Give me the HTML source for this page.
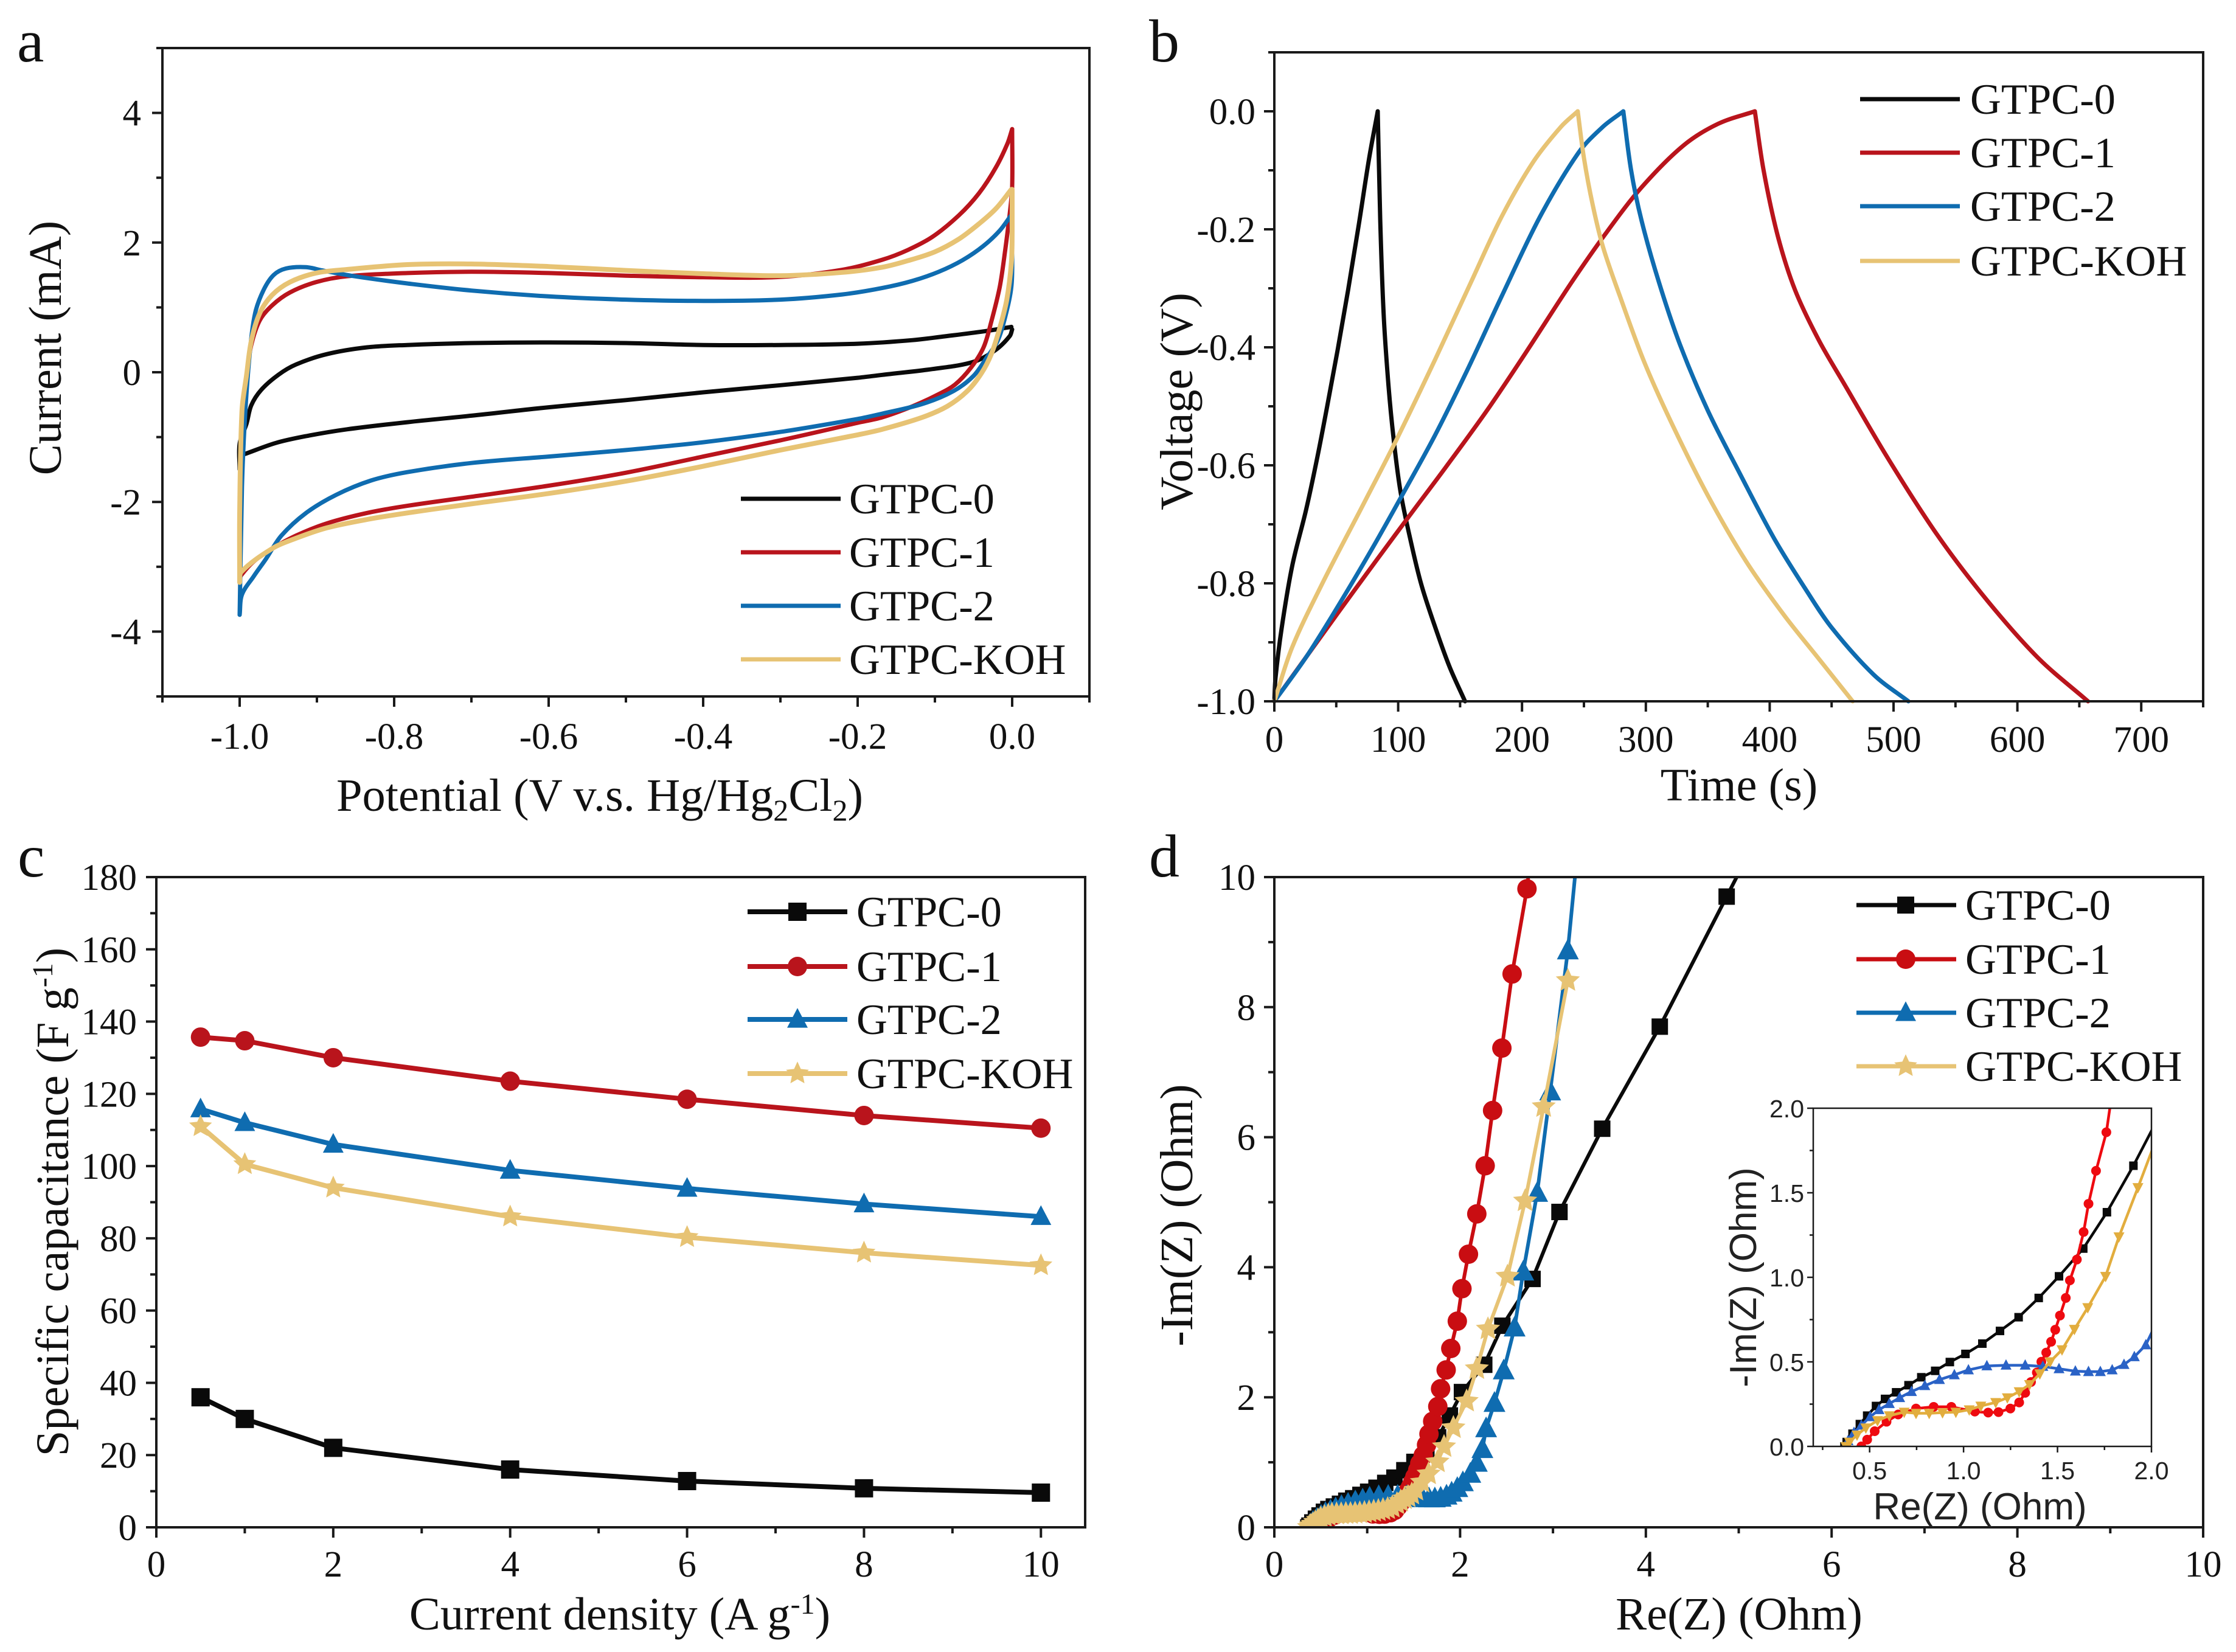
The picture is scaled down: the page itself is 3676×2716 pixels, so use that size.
<!DOCTYPE html>
<html lang="en">
<head>
<meta charset="utf-8">
<title>GTPC electrochemical performance</title>
<style>
html,body{margin:0;padding:0;background:#fff;}
svg{display:block;}
text{font-family:"Liberation Serif",serif;fill:#111;}
.tick{font-size:61px;}
.title{font-size:76.5px;}
.leg{font-size:70.5px;}
.letter{font-size:100px;}
.sans{font-family:"Liberation Sans",sans-serif;fill:#222;}
</style>
</head>
<body>
<svg id="fig" xmlns="http://www.w3.org/2000/svg" width="3676" height="2716" viewBox="0 0 3676 2716">
<defs>
<clipPath id="clip-d"><rect x="2095" y="1442" width="1527" height="1069"/></clipPath>
<clipPath id="clip-i"><rect x="2981" y="1822" width="556" height="556"/></clipPath>
</defs>
<rect width="3676" height="2716" fill="#fff"/>

<g id="panel-a"></g>
<g id="panel-b"></g>
<g id="panel-c"></g>
<g id="panel-d"></g>
<g id="panel-i"></g>

<text class="letter" x="28" y="101">a</text>
<text class="letter" x="1889" y="101">b</text>
<text class="letter" x="29" y="1441">c</text>
<text class="letter" x="1889" y="1441">d</text>

<text class="title" x="986" y="1333" text-anchor="middle">Potential (V v.s. Hg/Hg<tspan dy="16" font-size="50">2</tspan><tspan dy="-16">Cl</tspan><tspan dy="16" font-size="50">2</tspan><tspan dy="-16">)</tspan></text>
<text class="title" transform="translate(100,572) rotate(-90)" text-anchor="middle">Current (mA)</text>
<text class="title" x="2859" y="1316" text-anchor="middle">Time (s)</text>
<text class="title" transform="translate(1960,660) rotate(-90)" text-anchor="middle">Voltage (V)</text>
<text class="title" x="1019" y="2679" text-anchor="middle">Current density (A g<tspan dy="-26" font-size="48">-1</tspan><tspan dy="26">)</tspan></text>
<text class="title" transform="translate(112,1976) rotate(-90)" text-anchor="middle">Specific capacitance (F g<tspan dy="-26" font-size="48">-1</tspan><tspan dy="26">)</tspan></text>
<text class="title" x="2859" y="2679" text-anchor="middle">Re(Z) (Ohm)</text>
<text class="title" transform="translate(1960,1998) rotate(-90)" text-anchor="middle">-Im(Z) (Ohm)</text>
<text class="sans" font-size="62" x="3255" y="2498" text-anchor="middle">Re(Z) (Ohm)</text>
<text class="sans" font-size="62" transform="translate(2887,2100) rotate(-90)" text-anchor="middle">-Im(Z) (Ohm)</text>

<g>
<text class="leg" x="1396" y="844">GTPC-0</text>
<text class="leg" x="1396" y="932">GTPC-1</text>
<text class="leg" x="1396" y="1020">GTPC-2</text>
<text class="leg" x="1396" y="1108">GTPC-KOH</text>
</g>
<g>
<text class="leg" x="3239" y="187">GTPC-0</text>
<text class="leg" x="3239" y="275">GTPC-1</text>
<text class="leg" x="3239" y="363">GTPC-2</text>
<text class="leg" x="3239" y="453">GTPC-KOH</text>
</g>
<g>
<text class="leg" x="1408" y="1523">GTPC-0</text>
<text class="leg" x="1408" y="1613">GTPC-1</text>
<text class="leg" x="1408" y="1700">GTPC-2</text>
<text class="leg" x="1408" y="1789">GTPC-KOH</text>
</g>
<g>
<text class="leg" x="3231" y="1512">GTPC-0</text>
<text class="leg" x="3231" y="1601">GTPC-1</text>
<text class="leg" x="3231" y="1689">GTPC-2</text>
<text class="leg" x="3231" y="1777">GTPC-KOH</text>
</g>
</svg>

<script>
// ---------- series colours ----------
const BLACK = '#0a0a0a', RED = '#b9141c', BLUE = '#0f6cb0', YELLOW = '#e7c374';
const RED_D = '#c90d12';
const I_RED = '#ee0a10', I_BLUE = '#2a62c6', I_YELLOW = '#e2ad3e';

// ---------- panel a: CV loops ----------
const aXTicks = [-1, -0.8, -0.6, -0.4, -0.2, 0];
const aXLabels = ['-1.0', '-0.8', '-0.6', '-0.4', '-0.2', '0.0'];
const aXMinor = [-1.1, -0.9, -0.7, -0.5, -0.3, -0.1, 0.1];
const aYTicks = [-4, -2, 0, 2, 4];
const aYLabels = ['-4', '-2', '0', '2', '4'];
const aYMinor = [-5, -3, -1, 1, 3, 5];

const cv0FwdX = [-1, -1, -0.991, -0.985, -0.972, -0.95, -0.927, -0.887, -0.835, -0.783, -0.7, -0.6, -0.5, -0.4, -0.3, -0.2, -0.129, -0.09, -0.037, -0.001];
const cv0FwdY = [-1.5, -1.1, -0.79, -0.51, -0.27, -0.04, 0.12, 0.28, 0.385, 0.42, 0.45, 0.46, 0.45, 0.42, 0.42, 0.44, 0.495, 0.55, 0.63, 0.70];
const cv0RevX = [0, -0.003, -0.021, -0.05, -0.103, -0.168, -0.2, -0.3, -0.4, -0.5, -0.6, -0.7, -0.783, -0.861, -0.914, -0.953, -0.993];
const cv0RevY = [0.66, 0.56, 0.347, 0.16, 0.05, -0.04, -0.085, -0.2, -0.31, -0.43, -0.54, -0.67, -0.77, -0.88, -0.985, -1.09, -1.26];

const cv1FwdX = [-1, -0.999, -0.997, -0.991, -0.985, -0.974, -0.958, -0.935, -0.901, -0.861, -0.783, -0.7, -0.6, -0.5, -0.4, -0.3, -0.22, -0.168, -0.135, -0.103, -0.069, -0.043, -0.021, -0.006, 0];
const cv1FwdY = [-3.2, -1.5, -0.59, -0.04, 0.42, 0.80, 1.03, 1.23, 1.39, 1.48, 1.53, 1.55, 1.53, 1.49, 1.465, 1.47, 1.58, 1.735, 1.886, 2.09, 2.42, 2.76, 3.16, 3.53, 3.75];
const cv1RevX = [0, 0, -0.003, -0.009, -0.016, -0.027, -0.037, -0.053, -0.074, -0.098, -0.129, -0.168, -0.2, -0.3, -0.4, -0.5, -0.6, -0.7, -0.783, -0.835, -0.887, -0.927, -0.958, -0.982, -0.998, -1];
const cv1RevY = [3.75, 2.86, 2.46, 1.886, 1.32, 0.78, 0.385, 0.076, -0.19, -0.356, -0.525, -0.694, -0.78, -1.05, -1.3, -1.55, -1.75, -1.92, -2.06, -2.17, -2.33, -2.52, -2.72, -2.92, -3.13, -3.2];

const cv2FwdX = [-1, -0.997, -0.993, -0.987, -0.98, -0.969, -0.956, -0.94, -0.914, -0.893, -0.851, -0.783, -0.7, -0.6, -0.5, -0.4, -0.3, -0.22, -0.168, -0.129, -0.095, -0.064, -0.037, -0.016, -0.002];
const cv2FwdY = [-3.74, -1.77, -0.67, 0.28, 0.91, 1.27, 1.5, 1.6, 1.62, 1.57, 1.48, 1.37, 1.26, 1.17, 1.12, 1.1, 1.12, 1.2, 1.3, 1.41, 1.55, 1.73, 1.95, 2.186, 2.41];
const cv2RevX = [-0.001, 0, -0.001, -0.009, -0.019, -0.032, -0.05, -0.076, -0.116, -0.168, -0.2, -0.3, -0.4, -0.5, -0.6, -0.7, -0.783, -0.83, -0.875, -0.914, -0.946, -0.966, -0.982, -0.997, -1];
const cv2RevY = [2.39, 1.86, 1.32, 0.854, 0.478, 0.244, -0.056, -0.29, -0.488, -0.638, -0.72, -0.92, -1.08, -1.2, -1.3, -1.4, -1.54, -1.67, -1.89, -2.17, -2.52, -2.88, -3.15, -3.43, -3.74];

const cvKFwdX = [-1, -1, -0.997, -0.991, -0.985, -0.974, -0.958, -0.935, -0.901, -0.861, -0.783, -0.7, -0.6, -0.5, -0.4, -0.3, -0.22, -0.168, -0.135, -0.1, -0.069, -0.043, -0.021, -0.001];
const cvKFwdY = [-3.24, -2.17, -0.59, -0.04, 0.48, 0.91, 1.19, 1.39, 1.53, 1.585, 1.66, 1.67, 1.63, 1.57, 1.52, 1.49, 1.54, 1.62, 1.72, 1.857, 2.054, 2.289, 2.523, 2.82];
const cvKRevX = [0, 0, -0.001, -0.007, -0.016, -0.027, -0.04, -0.058, -0.084, -0.116, -0.168, -0.2, -0.3, -0.4, -0.5, -0.6, -0.7, -0.783, -0.835, -0.887, -0.927, -0.958, -0.998, -1];
const cvKRevY = [2.82, 2.19, 1.69, 1.116, 0.685, 0.28, -0.02, -0.29, -0.525, -0.694, -0.88, -0.965, -1.2, -1.45, -1.68, -1.87, -2.03, -2.17, -2.27, -2.40, -2.56, -2.72, -3.08, -3.24];

// ---------- panel b: charge/discharge ----------
const bXTicks = [0, 100, 200, 300, 400, 500, 600, 700];
const bXLabels = ['0', '100', '200', '300', '400', '500', '600', '700'];
const bXMinor = [50, 150, 250, 350, 450, 550, 650, 750];
const bYTicks = [-1, -0.8, -0.6, -0.4, -0.2, 0];
const bYLabels = ['-1.0', '-0.8', '-0.6', '-0.4', '-0.2', '0.0'];
const bYMinor = [-0.9, -0.7, -0.5, -0.3, -0.1, 0.1];

const gc0UpT = [0, 1, 6, 14.5, 25.7, 34.2, 42.7, 51.1, 59.6, 68, 76.5, 83.5];
const gc0UpV = [-1, -0.96, -0.875, -0.77, -0.675, -0.592, -0.5, -0.405, -0.303, -0.195, -0.08, 0];
const gc0DnT = [83.5, 85.5, 88.3, 92, 96.2, 101.9, 110.3, 118.8, 130, 141.4, 154];
const gc0DnV = [0, -0.184, -0.345, -0.46, -0.553, -0.645, -0.73, -0.803, -0.875, -0.941, -1];

const gc1UpT = [0, 25.7, 51.1, 82.1, 107.5, 138.5, 172.4, 203.4, 240, 268.3, 296.5, 330.3, 358.5, 388];
const gc1UpV = [-1, -0.925, -0.851, -0.762, -0.69, -0.603, -0.505, -0.408, -0.29, -0.205, -0.129, -0.058, -0.021, 0];
const gc1DnT = [388, 395, 406.5, 420.5, 439.7, 461, 496, 536, 576, 617, 657];
const gc1DnV = [0, -0.099, -0.211, -0.303, -0.388, -0.465, -0.59, -0.72, -0.83, -0.927, -1];

const gc2UpT = [0, 25.7, 51.1, 79.3, 104.7, 130, 155.5, 183.7, 214.7, 245.7, 265.4, 281.8];
const gc2UpV = [-1, -0.925, -0.84, -0.74, -0.645, -0.548, -0.44, -0.313, -0.178, -0.07, -0.026, 0];
const gc2DnT = [281.8, 288, 296.5, 310.6, 327.5, 350, 375.4, 403.6, 429, 450, 484, 512];
const gc2DnV = [0, -0.099, -0.185, -0.29, -0.395, -0.507, -0.612, -0.724, -0.81, -0.875, -0.955, -1];

const gcKUpT = [0, 14.5, 39.8, 70.9, 99, 130, 158.3, 183.7, 209, 231.6, 245];
const gcKUpV = [-1, -0.908, -0.796, -0.67, -0.555, -0.42, -0.292, -0.178, -0.086, -0.026, 0];
const gcKDnT = [245, 250, 257, 265.4, 279.5, 299.3, 321.8, 350, 381, 412, 439.7, 467];
const gcKDnV = [0, -0.079, -0.158, -0.23, -0.316, -0.428, -0.533, -0.651, -0.763, -0.855, -0.928, -1];

// ---------- panel c: rate capability ----------
const cXTicks = [0, 2, 4, 6, 8, 10];
const cXLabels = ['0', '2', '4', '6', '8', '10'];
const cXMinor = [1, 3, 5, 7, 9];
const cYTicks = [0, 20, 40, 60, 80, 100, 120, 140, 160, 180];
const cYLabels = ['0', '20', '40', '60', '80', '100', '120', '140', '160', '180'];
const cYMinor = [10, 30, 50, 70, 90, 110, 130, 150, 170];
const densities = [0.5, 1, 2, 4, 6, 8, 10];
const capGtpc0 = [36, 30, 22, 16, 12.8, 10.8, 9.6];
const capGtpc1 = [135.7, 134.7, 130, 123.5, 118.5, 114, 110.5];
const capGtpc2 = [115.8, 112, 106, 98.8, 93.8, 89.5, 86];
const capKoh = [111, 100.5, 94, 86, 80.3, 76, 72.5];

// ---------- panel d: Nyquist ----------
const dXTicks = [0, 2, 4, 6, 8, 10];
const dXLabels = ['0', '2', '4', '6', '8', '10'];
const dXMinor = [1, 3, 5, 7, 9];
const dYTicks = [0, 2, 4, 6, 8, 10];
const dYLabels = ['0', '2', '4', '6', '8', '10'];
const dYMinor = [1, 3, 5, 7, 9];

const ny0X = [0.366, 0.378, 0.409, 0.448, 0.487, 0.534, 0.582, 0.641, 0.707, 0.775, 0.849, 0.927, 1.01, 1.10, 1.194, 1.293, 1.40, 1.508, 1.637, 1.763, 1.89, 2.02, 2.26, 2.455, 2.78, 3.07, 3.53, 4.15, 4.87];
const ny0Y = [0, 0.026, 0.075, 0.132, 0.182, 0.239, 0.281, 0.32, 0.362, 0.409, 0.447, 0.499, 0.547, 0.608, 0.683, 0.764, 0.878, 1.006, 1.17, 1.385, 1.72, 2.08, 2.5, 3.1, 3.82, 4.85, 6.13, 7.7, 9.7];
const ny1X = [0.456, 0.487, 0.527, 0.59, 0.652, 0.747, 0.841, 0.935, 1.06, 1.131, 1.186, 1.249, 1.296, 1.328, 1.359, 1.39, 1.414, 1.44, 1.466, 1.488, 1.513, 1.544, 1.566, 1.603, 1.639, 1.665, 1.705, 1.76, 1.79, 1.85, 1.90, 1.97, 2.02, 2.09, 2.18, 2.27, 2.35, 2.45, 2.56, 2.72];
const ny1Y = [0, 0.04, 0.09, 0.146, 0.189, 0.224, 0.234, 0.234, 0.206, 0.2, 0.203, 0.224, 0.26, 0.317, 0.381, 0.437, 0.501, 0.555, 0.619, 0.69, 0.774, 0.878, 0.982, 1.105, 1.268, 1.435, 1.63, 1.858, 2.13, 2.42, 2.75, 3.17, 3.67, 4.2, 4.82, 5.56, 6.41, 7.37, 8.51, 9.82];
const ny2X = [0.37, 0.385, 0.417, 0.456, 0.503, 0.55, 0.605, 0.66, 0.723, 0.794, 0.872, 0.951, 1.026, 1.124, 1.226, 1.328, 1.422, 1.508, 1.595, 1.665, 1.728, 1.791, 1.854, 1.909, 1.97, 2.03, 2.11, 2.18, 2.24, 2.28, 2.37, 2.47, 2.587, 2.68, 2.83, 2.97, 3.16];
const ny2Y = [0, 0.033, 0.082, 0.125, 0.175, 0.217, 0.253, 0.288, 0.324, 0.359, 0.395, 0.423, 0.452, 0.476, 0.48, 0.48, 0.473, 0.459, 0.445, 0.442, 0.442, 0.452, 0.484, 0.53, 0.6, 0.69, 0.82, 0.99, 1.2, 1.52, 1.91, 2.41, 3.07, 3.93, 5.14, 6.7, 8.87];
const nyKX = [0.374, 0.393, 0.415, 0.44, 0.47, 0.5, 0.54, 0.58, 0.62, 0.67, 0.72, 0.77, 0.82, 0.87, 0.92, 0.97, 1.02, 1.07, 1.12, 1.17, 1.22, 1.27, 1.32, 1.36, 1.40, 1.44, 1.48, 1.524, 1.59, 1.661, 1.756, 1.827, 1.928, 2.07, 2.18, 2.30, 2.51, 2.70, 2.90, 3.16];
const nyKY = [0, 0.026, 0.05, 0.08, 0.11, 0.14, 0.165, 0.185, 0.2, 0.205, 0.205, 0.21, 0.21, 0.215, 0.22, 0.225, 0.235, 0.245, 0.255, 0.27, 0.285, 0.31, 0.36, 0.40, 0.44, 0.47, 0.51, 0.572, 0.693, 0.821, 1.006, 1.24, 1.531, 1.94, 2.44, 3.05, 3.86, 5.02, 6.47, 8.41];

// ---------- inset: Nyquist zoom ----------
const iXTicks = [0.5, 1, 1.5, 2];
const iXLabels = ['0.5', '1.0', '1.5', '2.0'];
const iXMinor = [0.25, 0.75, 1.25, 1.75];
const iYTicks = [0, 0.5, 1, 1.5, 2];
const iYLabels = ['0.0', '0.5', '1.0', '1.5', '2.0'];
const iYMinor = [0.25, 0.75, 1.25, 1.75];

const in0X = [0.366, 0.378, 0.409, 0.448, 0.487, 0.534, 0.582, 0.641, 0.707, 0.775, 0.849, 0.927, 1.01, 1.10, 1.194, 1.293, 1.40, 1.508, 1.637, 1.763, 1.904, 2.03];
const in0Y = [0, 0.026, 0.075, 0.132, 0.182, 0.239, 0.281, 0.32, 0.362, 0.409, 0.447, 0.499, 0.547, 0.608, 0.683, 0.764, 0.878, 1.006, 1.17, 1.385, 1.66, 1.93];
const in1X = [0.456, 0.487, 0.527, 0.59, 0.652, 0.747, 0.841, 0.935, 1.06, 1.131, 1.186, 1.249, 1.296, 1.328, 1.359, 1.39, 1.414, 1.44, 1.466, 1.488, 1.513, 1.544, 1.566, 1.603, 1.639, 1.665, 1.705, 1.76, 1.785];
const in1Y = [0, 0.04, 0.09, 0.146, 0.189, 0.224, 0.234, 0.234, 0.206, 0.2, 0.203, 0.224, 0.26, 0.317, 0.381, 0.437, 0.501, 0.555, 0.619, 0.69, 0.774, 0.878, 0.982, 1.105, 1.268, 1.435, 1.63, 1.858, 2.05];
const in2X = [0.37, 0.385, 0.417, 0.456, 0.503, 0.55, 0.605, 0.66, 0.723, 0.794, 0.872, 0.951, 1.026, 1.124, 1.226, 1.328, 1.422, 1.508, 1.595, 1.665, 1.728, 1.791, 1.854, 1.909, 1.97, 2.03];
const in2Y = [0, 0.033, 0.082, 0.125, 0.175, 0.217, 0.253, 0.288, 0.324, 0.359, 0.395, 0.423, 0.452, 0.476, 0.48, 0.48, 0.473, 0.459, 0.445, 0.442, 0.442, 0.452, 0.484, 0.53, 0.6, 0.74];
const inKX = [0.374, 0.393, 0.433, 0.48, 0.542, 0.605, 0.684, 0.747, 0.817, 0.888, 0.959, 1.03, 1.092, 1.171, 1.233, 1.296, 1.351, 1.406, 1.461, 1.524, 1.59, 1.661, 1.756, 1.827, 1.928, 2.03];
const inKY = [0, 0.026, 0.068, 0.11, 0.153, 0.182, 0.203, 0.196, 0.196, 0.2, 0.203, 0.217, 0.239, 0.26, 0.288, 0.324, 0.366, 0.43, 0.501, 0.572, 0.693, 0.821, 1.006, 1.24, 1.531, 1.83];

// ---------- helpers ----------
const NS = 'http://www.w3.org/2000/svg';
function make(parent, tag, name) {
  const n = document.createElementNS(NS, tag);
  
  
  parent.appendChild(n);
  return n;
}
function linear(d0, d1, r0, r1) {
  return v => r0 + (v - d0) * (r1 - r0) / (d1 - d0);
}
function drawFrame(g, box, opts) {
  const strokeW = opts.stroke;
  const frame = make(g, 'rect', opts.prefix + '-plot-frame');
  frame.setAttribute('x', box.l); frame.setAttribute('y', box.t);
  frame.setAttribute('width', box.r - box.l); frame.setAttribute('height', box.b - box.t);
  frame.setAttribute('fill', 'none'); frame.setAttribute('stroke', '#1a1a1a');
  frame.setAttribute('stroke-width', strokeW);

  function tickLine(x1, y1, x2, y2, name) {
    const t = make(g, 'line', name);
    t.setAttribute('x1', x1); t.setAttribute('y1', y1);
    t.setAttribute('x2', x2); t.setAttribute('y2', y2);
    t.setAttribute('stroke', '#1a1a1a'); t.setAttribute('stroke-width', strokeW);
  }
  function label(x, y, s, anchor, name) {
    const t = make(g, 'text', name);
    t.setAttribute('x', x); t.setAttribute('y', y);
    t.setAttribute('text-anchor', anchor);
    if (opts.sans) { t.setAttribute('class', 'sans'); t.setAttribute('font-size', opts.fs); }
    else t.setAttribute('class', 'tick');
    t.textContent = s;
  }
  opts.xTicks.forEach((v, i) => {
    tickLine(opts.sx(v), box.b, opts.sx(v), box.b + opts.major, opts.prefix + '-x-tick');
    label(opts.sx(v), opts.xBase, opts.xLabels[i], 'middle', opts.prefix + '-x-tick-label');
  });
  opts.xMinor.forEach(v => tickLine(opts.sx(v), box.b, opts.sx(v), box.b + opts.minor, opts.prefix + '-x-minor-tick'));
  opts.yTicks.forEach((v, i) => {
    tickLine(box.l, opts.sy(v), box.l - opts.major, opts.sy(v), opts.prefix + '-y-tick');
    label(opts.yRight, opts.sy(v) + opts.yShift, opts.yLabels[i], 'end', opts.prefix + '-y-tick-label');
  });
  opts.yMinor.forEach(v => tickLine(box.l, opts.sy(v), box.l - opts.minor, opts.sy(v), opts.prefix + '-y-minor-tick'));
}
function pathStraight(pts) {
  return pts.map((p, i) => (i ? 'L' : 'M') + p[0].toFixed(1) + ' ' + p[1].toFixed(1)).join(' ');
}
function unitDir(a, b) {
  const dx = b[0] - a[0], dy = b[1] - a[1], len = Math.hypot(dx, dy) || 1;
  return [dx / len, dy / len];
}
function pathSmooth(pts) {
  let d = 'M' + pts[0][0].toFixed(1) + ' ' + pts[0][1].toFixed(1);
  for (let i = 0; i < pts.length - 1; i++) {
    const p0 = pts[Math.max(i - 1, 0)], p1 = pts[i], p2 = pts[i + 1], p3 = pts[Math.min(i + 2, pts.length - 1)];
    const seg = Math.hypot(p2[0] - p1[0], p2[1] - p1[1]) / 3;
    const d1 = unitDir(p0, p2), d2 = unitDir(p1, p3);
    const c1x = p1[0] + d1[0] * seg, c1y = p1[1] + d1[1] * seg;
    const c2x = p2[0] - d2[0] * seg, c2y = p2[1] - d2[1] * seg;
    d += ' C' + c1x.toFixed(1) + ' ' + c1y.toFixed(1) + ' ' + c2x.toFixed(1) + ' ' + c2y.toFixed(1) + ' ' + p2[0].toFixed(1) + ' ' + p2[1].toFixed(1);
  }
  return d;
}
function drawPath(g, xs, ys, sx, sy, color, width, name, smooth) {
  const pts = xs.map((x, i) => [sx(x), sy(ys[i])]);
  const p = make(g, 'path', name);
  p.setAttribute('d', smooth ? pathSmooth(pts) : pathStraight(pts));
  p.setAttribute('fill', 'none'); p.setAttribute('stroke', color);
  p.setAttribute('stroke-width', width);
  p.setAttribute('stroke-linejoin', 'round'); p.setAttribute('stroke-linecap', 'round');
  return p;
}
function drawMarker(g, kind, cx, cy, size, color, name) {
  if (kind === 'square') {
    const m = make(g, 'rect', name);
    m.setAttribute('x', cx - size / 2); m.setAttribute('y', cy - size / 2);
    m.setAttribute('width', size); m.setAttribute('height', size);
    m.setAttribute('fill', color);
  } else if (kind === 'circle') {
    const m = make(g, 'circle', name);
    m.setAttribute('cx', cx); m.setAttribute('cy', cy); m.setAttribute('r', size / 2);
    m.setAttribute('fill', color);
  } else if (kind === 'up' || kind === 'down') {
    const s = kind === 'up' ? 1 : -1, h = size * 0.5;
    const m = make(g, 'polygon', name);
    m.setAttribute('points', cx + ',' + (cy - s * h * 1.1) + ' ' + (cx + h) + ',' + (cy + s * h * 0.8) + ' ' + (cx - h) + ',' + (cy + s * h * 0.8));
    m.setAttribute('fill', color);
  } else {
    const pts = [];
    for (let k = 0; k < 10; k++) {
      const r = k % 2 ? size * 0.26 : size * 0.55, a = -Math.PI / 2 + k * Math.PI / 5;
      pts.push((cx + r * Math.cos(a)).toFixed(1) + ',' + (cy + r * Math.sin(a)).toFixed(1));
    }
    const m = make(g, 'polygon', name);
    m.setAttribute('points', pts.join(' '));
    m.setAttribute('fill', color);
  }
}
function drawSeries(g, xs, ys, sx, sy, color, width, kind, size, name) {
  const sg = make(g, 'g', name);
  drawPath(sg, xs, ys, sx, sy, color, width, name + '-line', false);
  xs.forEach((x, i) => {
    drawMarker(sg, kind, sx(x), sy(ys[i]), size, color, name + '-point');
  });
  return sg;
}
function legendLine(g, x1, x2, y, color, width, name) {
  const l = make(g, 'line', name);
  l.setAttribute('x1', x1); l.setAttribute('x2', x2);
  l.setAttribute('y1', y); l.setAttribute('y2', y);
  l.setAttribute('stroke', color); l.setAttribute('stroke-width', width);
}

// ---------- panel a ----------
(function () {
  const g = document.getElementById('panel-a');
  const box = { l: 267, r: 1791, t: 79, b: 1145 };
  const sx = linear(-1.1, 0.1, box.l, box.r), sy = linear(-5, 5, box.b, box.t);
  drawPath(g, cv0FwdX, cv0FwdY, sx, sy, BLACK, 7, 'cv-gtpc-0-forward', true);
  drawPath(g, cv0RevX, cv0RevY, sx, sy, BLACK, 7, 'cv-gtpc-0-reverse', true);
  drawPath(g, cv1FwdX, cv1FwdY, sx, sy, RED, 7, 'cv-gtpc-1-forward', true);
  drawPath(g, cv1RevX, cv1RevY, sx, sy, RED, 7, 'cv-gtpc-1-reverse', true);
  drawPath(g, cv2FwdX, cv2FwdY, sx, sy, BLUE, 7, 'cv-gtpc-2-forward', true);
  drawPath(g, cv2RevX, cv2RevY, sx, sy, BLUE, 7, 'cv-gtpc-2-reverse', true);
  drawPath(g, cvKFwdX, cvKFwdY, sx, sy, YELLOW, 8, 'cv-gtpc-koh-forward', true);
  drawPath(g, cvKRevX, cvKRevY, sx, sy, YELLOW, 8, 'cv-gtpc-koh-reverse', true);
  drawFrame(g, box, { prefix: 'a', stroke: 4, major: 17, minor: 10, sx, sy, xTicks: aXTicks, xLabels: aXLabels, xMinor: aXMinor, yTicks: aYTicks, yLabels: aYLabels, yMinor: aYMinor, xBase: 1231, yRight: 232, yShift: 21 });
  [[820, BLACK], [908, RED], [996, BLUE], [1084, YELLOW]].forEach(r => legendLine(g, 1218, 1382, r[0], r[1], 7, 'legend-a-line'));
})();

// ---------- panel b ----------
(function () {
  const g = document.getElementById('panel-b');
  const box = { l: 2095, r: 3622, t: 86, b: 1153 };
  const sx = linear(0, 750, box.l, box.r), sy = linear(-1, 0.1, box.b, box.t);
  drawPath(g, gc0UpT, gc0UpV, sx, sy, BLACK, 7, 'gcd-gtpc-0-charge', true);
  drawPath(g, gc0DnT, gc0DnV, sx, sy, BLACK, 7, 'gcd-gtpc-0-discharge', true);
  drawPath(g, gc1UpT, gc1UpV, sx, sy, RED, 7, 'gcd-gtpc-1-charge', true);
  drawPath(g, gc1DnT, gc1DnV, sx, sy, RED, 7, 'gcd-gtpc-1-discharge', true);
  drawPath(g, gc2UpT, gc2UpV, sx, sy, BLUE, 7, 'gcd-gtpc-2-charge', true);
  drawPath(g, gc2DnT, gc2DnV, sx, sy, BLUE, 7, 'gcd-gtpc-2-discharge', true);
  drawPath(g, gcKUpT, gcKUpV, sx, sy, YELLOW, 7, 'gcd-gtpc-koh-charge', true);
  drawPath(g, gcKDnT, gcKDnV, sx, sy, YELLOW, 7, 'gcd-gtpc-koh-discharge', true);
  drawFrame(g, box, { prefix: 'b', stroke: 4, major: 17, minor: 10, sx, sy, xTicks: bXTicks, xLabels: bXLabels, xMinor: bXMinor, yTicks: bYTicks, yLabels: bYLabels, yMinor: bYMinor, xBase: 1236, yRight: 2064, yShift: 21 });
  [[163, BLACK], [251, RED], [339, BLUE], [429, YELLOW]].forEach(r => legendLine(g, 3058, 3222, r[0], r[1], 7, 'legend-b-line'));
})();

// ---------- panel c ----------
(function () {
  const g = document.getElementById('panel-c');
  const box = { l: 257, r: 1784, t: 1442, b: 2511 };
  const sx = linear(0, 10.5, box.l, box.r), sy = linear(0, 180, box.b, box.t);
  drawSeries(g, densities, capGtpc0, sx, sy, BLACK, 8, 'square', 30, 'rate-gtpc-0');
  drawSeries(g, densities, capGtpc1, sx, sy, RED, 8, 'circle', 32, 'rate-gtpc-1');
  drawSeries(g, densities, capGtpc2, sx, sy, BLUE, 8, 'up', 34, 'rate-gtpc-2');
  drawSeries(g, densities, capKoh, sx, sy, YELLOW, 8, 'star', 36, 'rate-gtpc-koh');
  drawFrame(g, box, { prefix: 'c', stroke: 4, major: 17, minor: 10, sx, sy, xTicks: cXTicks, xLabels: cXLabels, xMinor: cXMinor, yTicks: cYTicks, yLabels: cYLabels, yMinor: cYMinor, xBase: 2592, yRight: 225, yShift: 21 });
  const rows = [[1499, BLACK, 'square', 30], [1589, RED, 'circle', 32], [1676, BLUE, 'up', 34], [1765, YELLOW, 'star', 36]];
  rows.forEach(r => {
    legendLine(g, 1229, 1393, r[0], r[1], 8, 'legend-c-line');
    drawMarker(g, r[2], 1311, r[0], r[3], r[1], 'legend-c-marker');
  });
})();

// ---------- panel d ----------
(function () {
  const g = document.getElementById('panel-d');
  const box = { l: 2095, r: 3622, t: 1442, b: 2511 };
  const sx = linear(0, 10, box.l, box.r), sy = linear(0, 10, box.b, box.t);
  const clip = make(g, 'g', 'd-plot-area');
  clip.setAttribute('clip-path', 'url(#clip-d)');
  const s0 = drawSeries(clip, ny0X, ny0Y, sx, sy, BLACK, 6, 'square', 27, 'nyquist-gtpc-0');
  drawPath(s0, [4.87, 5.05], [9.7, 10.2], sx, sy, BLACK, 6, 'nyquist-gtpc-0-tail', false);
  const s1 = drawSeries(clip, ny1X, ny1Y, sx, sy, RED_D, 6, 'circle', 32, 'nyquist-gtpc-1');
  drawPath(s1, [2.72, 2.75], [9.82, 10.2], sx, sy, RED_D, 6, 'nyquist-gtpc-1-tail', false);
  const s2 = drawSeries(clip, ny2X, ny2Y, sx, sy, BLUE, 6, 'up', 36, 'nyquist-gtpc-2');
  drawPath(s2, [3.16, 3.25], [8.87, 10.2], sx, sy, BLUE, 6, 'nyquist-gtpc-2-tail', false);
  drawSeries(clip, nyKX, nyKY, sx, sy, YELLOW, 6, 'star', 38, 'nyquist-gtpc-koh');
  drawFrame(g, box, { prefix: 'd', stroke: 4, major: 17, minor: 10, sx, sy, xTicks: dXTicks, xLabels: dXLabels, xMinor: dXMinor, yTicks: dYTicks, yLabels: dYLabels, yMinor: dYMinor, xBase: 2592, yRight: 2064, yShift: 21 });
  const rows = [[1488, BLACK, 'square', 28], [1577, RED_D, 'circle', 32], [1665, BLUE, 'up', 34], [1753, YELLOW, 'star', 36]];
  rows.forEach(r => {
    legendLine(g, 3052, 3216, r[0], r[1], 7, 'legend-d-line');
    drawMarker(g, r[2], 3133, r[0], r[3], r[1], 'legend-d-marker');
  });
})();

// ---------- inset ----------
(function () {
  const g = document.getElementById('panel-i');
  const box = { l: 2981, r: 3537, t: 1822, b: 2378 };
  const sx = linear(0.2, 2, box.l, box.r), sy = linear(0, 2, box.b, box.t);
  const clip = make(g, 'g', 'inset-plot-area');
  clip.setAttribute('clip-path', 'url(#clip-i)');
  drawSeries(clip, in0X, in0Y, sx, sy, BLACK, 4.5, 'square', 14, 'inset-gtpc-0');
  drawSeries(clip, in1X, in1Y, sx, sy, I_RED, 4.5, 'circle', 16, 'inset-gtpc-1');
  drawSeries(clip, in2X, in2Y, sx, sy, I_BLUE, 4.5, 'up', 18, 'inset-gtpc-2');
  drawSeries(clip, inKX, inKY, sx, sy, I_YELLOW, 4.5, 'down', 18, 'inset-gtpc-koh');
  drawFrame(g, box, { prefix: 'inset', stroke: 2.5, major: 10, minor: 6, sans: true, fs: 41, sx, sy, xTicks: iXTicks, xLabels: iXLabels, xMinor: iXMinor, yTicks: iYTicks, yLabels: iYLabels, yMinor: iYMinor, xBase: 2432, yRight: 2966, yShift: 15 });
})();
</script>
</body>
</html>
